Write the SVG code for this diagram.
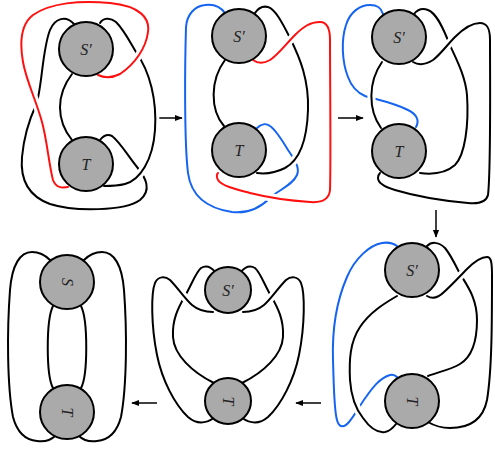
<svg xmlns="http://www.w3.org/2000/svg" width="495" height="450" viewBox="0 0 495 450">
<style>
.k{fill:none;stroke:#000;stroke-width:2;stroke-linecap:round;stroke-linejoin:round}
.r{fill:none;stroke:#ff1010;stroke-width:2;stroke-linecap:round}
.b{fill:none;stroke:#1464f0;stroke-width:2;stroke-linecap:round}
.h{fill:none;stroke:#fff;stroke-width:8;stroke-linecap:butt}
.c{fill:#aaaaaa;stroke:#000;stroke-width:2}
.t{font-family:"Liberation Serif","DejaVu Serif",serif;font-style:italic;font-size:16px;fill:#222;text-anchor:middle;dominant-baseline:central}
.a{stroke:#000;stroke-width:1.5;fill:none}
</style>
<defs>
<marker id="ah" viewBox="0 0 10 10" refX="9" refY="5" markerWidth="8" markerHeight="8" markerUnits="userSpaceOnUse" orient="auto">
<path d="M0,1 L10,5 L0,9 z" fill="#000"/>
</marker>
</defs>
<g id="connectors">
<line class="a" x1="157" y1="118" x2="182" y2="118" marker-end="url(#ah)"/>
<line class="a" x1="338" y1="118" x2="363" y2="118" marker-end="url(#ah)"/>
<line class="a" x1="436" y1="210" x2="436" y2="237" marker-end="url(#ah)"/>
<line class="a" x1="321" y1="403" x2="296" y2="403" marker-end="url(#ah)"/>
<line class="a" x1="157" y1="403" x2="132" y2="403" marker-end="url(#ah)"/>
</g>
<g id="panel1">
<path class="k" d="M72,74 C56,95 56,120 72,140"/>
<path class="k" d="M100,140 C104,135 108,134 112,136 C120,142 128,156 137,167 C146,178 152,190 140,200 C125,211 75,212 50,204 C28,196 20,180 22,157 C24,135 30,118 36,105 C42,90 42,50 50,30 C55,18 66,15 74,24"/>
<path class="h" d="M100,23 C103,18 110,17 116,22 C124,30 130,42 136,52 C150,72 157,100 155,130 C153,160 140,180 125,184 C117,186 110,186 104,186"/>
<path class="k" d="M100,23 C103,18 110,17 116,22 C124,30 130,42 136,52 C150,72 157,100 155,130 C153,160 140,180 125,184 C117,186 110,186 104,186"/>
<path class="h" d="M98,75 C104,78 112,78 120,74 C135,64 146,48 148,32 C150,18 140,6 110,3 C80,0 50,3 33,15 C20,25 20,45 23,62 C26,80 36,100 42,122 C47,140 49,165 53,180 C56,188 62,188 68,187"/>
<path class="r" d="M98,75 C104,78 112,78 120,74 C135,64 146,48 148,32 C150,18 140,6 110,3 C80,0 50,3 33,15 C20,25 20,45 23,62 C26,80 36,100 42,122 C47,140 49,165 53,180 C56,188 62,188 68,187"/>
<g id="p1S"><circle class="c" cx="86" cy="49" r="27"/><text class="t" x="86" y="49">S′</text></g>
<g id="p1T"><circle class="c" cx="86" cy="164" r="27"/><text class="t" x="86" y="164">T</text></g>
</g>
<g id="panel2">
<path class="k" d="M225,60 C210,80 210,110 224,126"/>
<path class="b" d="M225,13 C220,6 212,4 205,5 C195,6 187,14 186,27 C185,60 184,140 188,173 C191,195 205,208 232,212 C248,214 260,208 270,198 C278,190 292,186 297,175 C300,168 295,160 288,150 C282,140 276,130 270,126 C266,123 261,124 257,128"/>
<path class="h" d="M255,13 C259,7 264,6 268,7 C275,9 282,22 290,38 C300,58 309,80 308,110 C307,140 300,160 285,168 C275,173 265,174 257,173"/>
<path class="k" d="M255,13 C259,7 264,6 268,7 C275,9 282,22 290,38 C300,58 309,80 308,110 C307,140 300,160 285,168 C275,173 265,174 257,173"/>
<path class="h" d="M253,60 C257,63 263,64 270,60 C278,55 285,45 295,35 C303,27 310,22 320,22 C327,22 330,28 330,40 C330,80 331,160 330,190 C329,200 322,203 310,202 C295,201 270,198 250,193 C235,189 222,186 218,180 C216,176 217,174 218,173"/>
<path class="r" d="M253,60 C257,63 263,64 270,60 C278,55 285,45 295,35 C303,27 310,22 320,22 C327,22 330,28 330,40 C330,80 331,160 330,190 C329,200 322,203 310,202 C295,201 270,198 250,193 C235,189 222,186 218,180 C216,176 217,174 218,173"/>
<g id="p2S"><circle class="c" cx="239" cy="36" r="27"/><text class="t" x="239" y="36">S′</text></g>
<g id="p2T"><circle class="c" cx="239" cy="150" r="27"/><text class="t" x="239" y="150">T</text></g>
</g>
<g id="panel3">
<path class="b" d="M383,14 C381,7 377,5 370,5 C360,5 350,12 346,25 C341,40 342,62 348,77 C352,88 358,93 365,96 C375,99 395,103 408,110 C416,114 420,120 416,127"/>
<path class="h" d="M382,62 C368,82 368,110 381,128"/>
<path class="k" d="M382,62 C368,82 368,110 381,128"/>
<path class="k" d="M414,14 C418,9 423,8 428,10 C436,13 442,26 447,38 C452,52 465,72 467,95 C469,125 465,155 455,165 C447,172 435,175 420,173"/>
<path class="h" d="M413,62 C418,65 425,65 433,60 C440,55 447,45 455,37 C462,30 470,23 480,23 C487,23 490,28 490,40 C490,80 491,170 488,195 C486,203 478,204 468,203 C445,201 415,196 395,190 C385,187 378,183 378,178 C378,175 379,174 380,173"/>
<path class="k" d="M413,62 C418,65 425,65 433,60 C440,55 447,45 455,37 C462,30 470,23 480,23 C487,23 490,28 490,40 C490,80 491,170 488,195 C486,203 478,204 468,203 C445,201 415,196 395,190 C385,187 378,183 378,178 C378,175 379,174 380,173"/>
<g id="p3S"><circle class="c" cx="399" cy="37" r="27"/><text class="t" x="399" y="37">S′</text></g>
<g id="p3T"><circle class="c" cx="399" cy="151" r="27"/><text class="t" x="399" y="151">T</text></g>
</g>
<g id="panel4">
<path class="b" d="M397,246 C393,243 388,242 382,243 C370,245 355,258 347,277 C337,300 332,330 333,360 C334,390 334,410 337,420 C339,428 344,428 349,422 C355,415 360,405 366,397 C373,387 380,378 390,375 C393,374 395,375 397,377"/>
<path class="k" d="M427,246 C431,242 438,241 445,248 C450,254 454,262 458,270 C464,282 477,295 477,320 C477,345 470,358 460,364 C450,370 438,372 428,376"/>
<path class="h" d="M397,296 C385,303 370,312 360,327 C350,342 349,360 350,380 C351,395 355,408 363,418 C370,428 378,433 385,432 C390,431 393,428 396,424"/>
<path class="k" d="M397,296 C385,303 370,312 360,327 C350,342 349,360 350,380 C351,395 355,408 363,418 C370,428 378,433 385,432 C390,431 393,428 396,424"/>
<path class="h" d="M427,296 C432,299 438,298 444,292 C452,285 460,276 467,269 C474,262 481,257 487,257 C491,257 492,262 492,275 C492,320 492,370 487,400 C483,420 470,428 450,428 C440,428 433,425 428,422"/>
<path class="k" d="M427,296 C432,299 438,298 444,292 C452,285 460,276 467,269 C474,262 481,257 487,257 C491,257 492,262 492,275 C492,320 492,370 487,400 C483,420 470,428 450,428 C440,428 433,425 428,422"/>
<g id="p4S"><circle class="c" cx="412" cy="270" r="27"/><text class="t" x="412" y="270">S′</text></g>
<g id="p4T"><circle class="c" cx="412" cy="401" r="27"/><text class="t" x="412" y="401" transform="rotate(90 412 401)">T</text></g>
</g>
<g id="panel5">
<path class="k" d="M215,272 C211,267 206,265 201,268 C196,272 192,284 185,296 C178,308 172,320 173,337 C174,355 192,372 214,383"/>
<path class="k" d="M241,272 C245,267 250,265 255,268 C260,272 264,284 271,296 C278,308 284,320 283,337 C282,355 264,372 242,383"/>
<path class="h" d="M213,312 C205,312 198,310 192,305 C185,299 178,288 170,280 C165,276 158,276 155,283 C151,293 151,325 157,355 C162,380 175,405 188,417 C196,424 205,424 214,418"/>
<path class="k" d="M213,312 C205,312 198,310 192,305 C185,299 178,288 170,280 C165,276 158,276 155,283 C151,293 151,325 157,355 C162,380 175,405 188,417 C196,424 205,424 214,418"/>
<path class="h" d="M243,312 C251,312 258,310 264,305 C271,299 278,288 286,280 C291,276 298,276 301,283 C305,293 305,325 299,355 C294,380 281,405 268,417 C260,424 251,424 242,418"/>
<path class="k" d="M243,312 C251,312 258,310 264,305 C271,299 278,288 286,280 C291,276 298,276 301,283 C305,293 305,325 299,355 C294,380 281,405 268,417 C260,424 251,424 242,418"/>
<g id="p5S"><circle class="c" cx="228" cy="290" r="23"/><text class="t" x="228" y="290">S′</text></g>
<g id="p5T"><circle class="c" cx="228" cy="401" r="23"/><text class="t" x="228" y="401" transform="rotate(90 228 401)">T</text></g>
</g>
<g id="panel6">
<path class="k" d="M50,260 C44,254 38,252 32,252 C20,252 12,265 10,290 C7,330 7,385 13,417 C17,432 25,440 37,441 C45,442 51,440 55,436"/>
<path class="k" d="M84,260 C90,254 96,252 102,252 C114,252 122,265 124,290 C127,330 127,385 121,417 C117,432 109,440 97,441 C89,442 83,440 79,436"/>
<path class="k" d="M53,306 C46,320 46,375 53,388"/>
<path class="k" d="M81,306 C88,320 88,375 81,388"/>
<g id="p6S"><circle class="c" cx="67" cy="282" r="27"/><text class="t" x="67" y="282" transform="rotate(90 67 282)">S</text></g>
<g id="p6T"><circle class="c" cx="67" cy="412" r="27"/><text class="t" x="67" y="412" transform="rotate(90 67 412)">T</text></g>
</g>
</svg>
